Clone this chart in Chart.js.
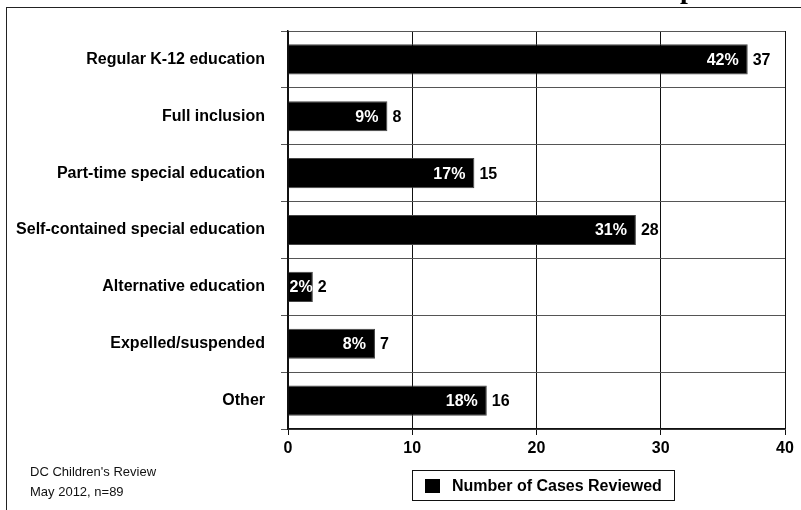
<!DOCTYPE html>
<html>
<head>
<meta charset="utf-8">
<script src="https://cdn.jsdelivr.net/npm/chart.js@4"></script>
<style>
  body { margin: 0; background: #fff; font-family: 'Liberation Sans', Arial, sans-serif; }
  #wrap { position: relative; width: 801px; height: 510px; overflow: hidden; }
  #myChart { position: absolute; left: 0; top: 0; }
  .frame-top { position: absolute; left: 7px; top: 7px; width: 794px; height: 0; border-top: 1.5px solid #222; }
  .frame-left { position: absolute; left: 6px; top: 7px; width: 0; height: 503px; border-left: 1.5px solid #222; }
  .title-cut { position: absolute; left: 680px; top: -26px; font: bold 28px 'Liberation Serif', serif; line-height: 30px; }
  .note { position: absolute; left: 30px; font-size: 13px; color: #111; line-height: 16px; }
  #legend { position: absolute; left: 412px; top: 470px; width: 261px; height: 29px; border: 1.5px solid #111;
            display: flex; align-items: center; font: bold 16px 'Liberation Sans', Arial, sans-serif; }
  #legend .sw { width: 15px; height: 14px; background: #000; margin-left: 12px; margin-right: 12px; }
</style>
</head>
<body>
<div id="wrap">
  <canvas id="myChart" width="801" height="510"></canvas>
  <div class="frame-top"></div>
  <div class="frame-left"></div>
  <div class="title-cut">p</div>
  <div class="note" style="top:464px">DC Children's Review</div>
  <div class="note" style="top:484px">May 2012, n=89</div>
  <div id="legend"><span class="sw"></span><span id="legend-text"></span></div>
</div>
<script>
const categories = [
    'Regular K-12 education',
    'Full inclusion',
    'Part-time special education',
    'Self-contained special education',
    'Alternative education',
    'Expelled/suspended',
    'Other'
]
const casesReviewed = [37, 8, 15, 28, 2, 7, 16]
const percentLabels = ['42%', '9%', '17%', '31%', '2%', '8%', '18%']
const xTicks = [0, 10, 20, 30, 40]
const seriesName = 'Number of Cases Reviewed'

const FONT = '"Liberation Sans", Arial, sans-serif'

document.getElementById('legend-text').textContent = seriesName

// percent inside the bar (white), count just after it (black)
const barLabels = {
    id: 'barLabels',
    afterDatasetsDraw(chart) {
        const ctx = chart.ctx
        const meta = chart.getDatasetMeta(0)
        ctx.save()
        ctx.font = 'bold 16px ' + FONT
        ctx.textBaseline = 'middle'
        meta.data.forEach((bar, i) => {
            const w = ctx.measureText(percentLabels[i]).width
            const right = Math.max(bar.x - 9, bar.base + w + 1)
            ctx.fillStyle = '#fff'
            ctx.textAlign = 'right'
            ctx.fillText(percentLabels[i], right, bar.y + 1)
            ctx.fillStyle = '#000'
            ctx.textAlign = 'left'
            ctx.fillText(String(casesReviewed[i]), bar.x + 5, bar.y + 1)
        })
        ctx.restore()
    }
}

const ctx = document.getElementById('myChart')
new Chart(ctx, {
    type: 'bar',
    data: {
        labels: categories,
        datasets: [{
            label: seriesName,
            data: casesReviewed,
            backgroundColor: '#000',
            borderColor: '#444',
            borderWidth: 1,
            barPercentage: 0.53,
            categoryPercentage: 1
        }]
    },
    options: {
        indexAxis: 'y',
        responsive: false,
        animation: false,
        devicePixelRatio: 1,
        layout: { padding: { top: 31, right: 16, left: 0, bottom: 0 } },
        scales: {
            x: {
                min: xTicks[0],
                max: xTicks[xTicks.length - 1],
                afterBuildTicks: (scale) => { scale.ticks = xTicks.map(v => ({ value: v })) },
                afterFit: (scale) => { scale.height = 81 },
                ticks: {
                    color: '#000',
                    padding: 4,
                    font: { family: FONT, size: 16, weight: 'bold' }
                },
                grid: { color: '#111', lineWidth: 1, tickLength: 6 },
                border: { color: '#111', width: 1.5 }
            },
            y: {
                afterFit: (scale) => { scale.width = 288 },
                ticks: {
                    color: '#000',
                    padding: 16,
                    font: { family: FONT, size: 16, weight: 'bold' }
                },
                grid: { color: '#555', lineWidth: 1, tickLength: 7, offset: true },
                border: { color: '#111', width: 1.5 }
            }
        },
        plugins: {
            legend: { display: false },
            tooltip: { enabled: false }
        }
    },
    plugins: [barLabels]
})
</script>
</body>
</html>
